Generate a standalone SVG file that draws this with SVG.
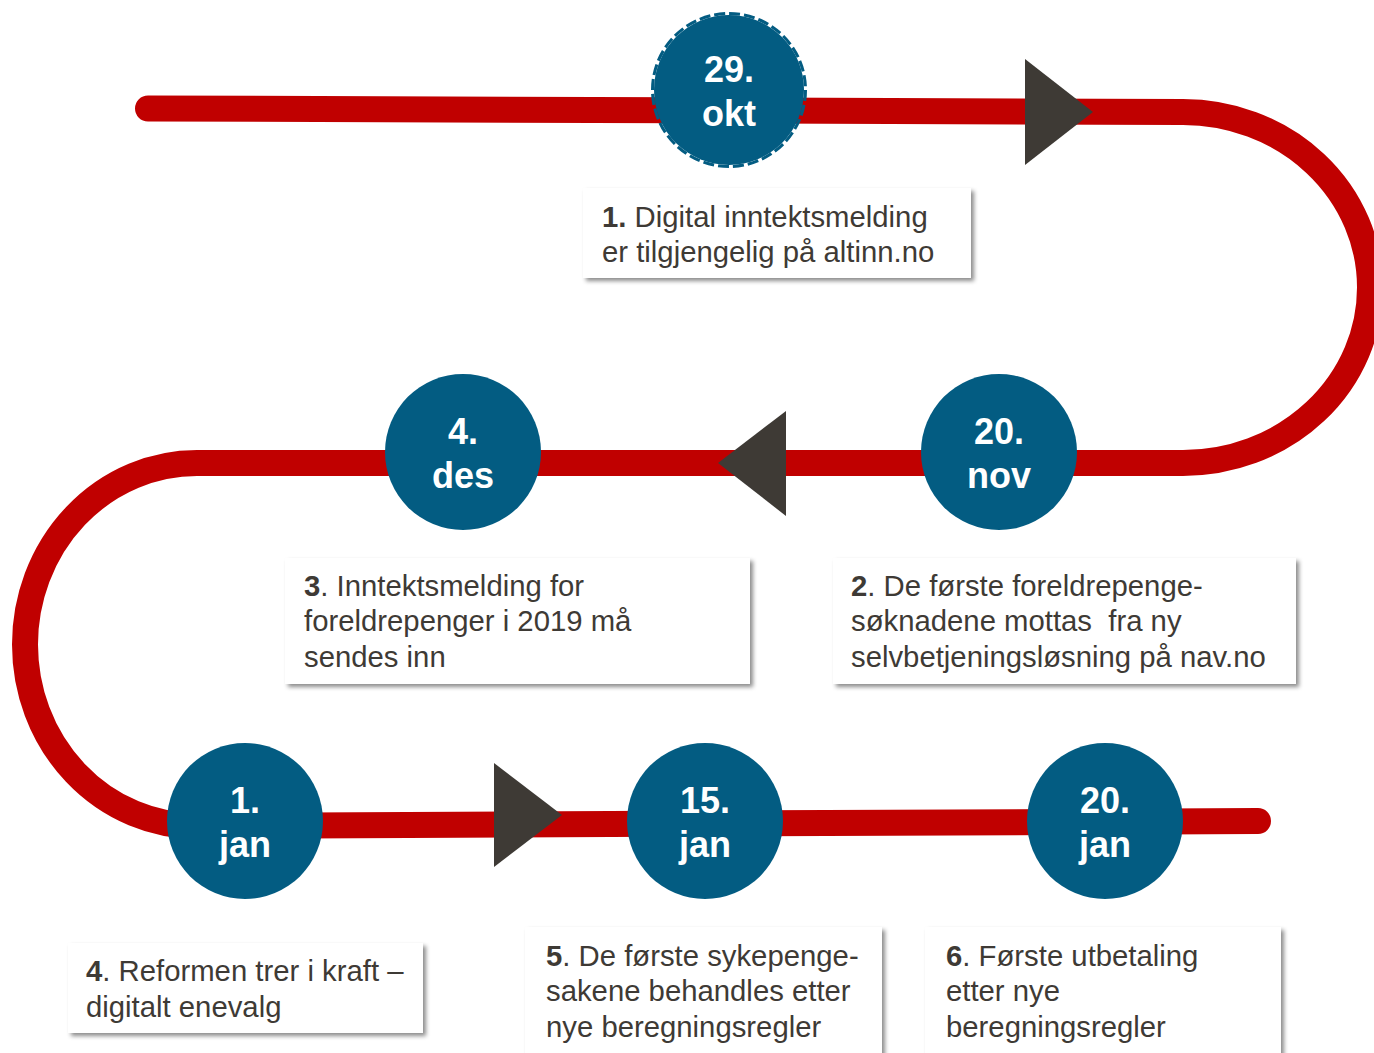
<svg xmlns="http://www.w3.org/2000/svg" width="1374" height="1053" viewBox="0 0 1374 1053">
<defs>
<style>
.road{fill:none;stroke:#c00000;stroke-width:26;stroke-linecap:round;stroke-linejoin:round}
.arrow{fill:#3e3a35}
.node{fill:#035c82}
.nt{font-family:"Liberation Sans",Arial,sans-serif;font-weight:bold;font-size:36px;fill:#ffffff;text-anchor:middle}
.box{fill:#ffffff;filter:url(#sh)}
.bt{font-family:"Liberation Sans",Arial,sans-serif;font-size:29.3px;fill:#3e3a35}
.b{font-weight:bold}
</style>
<filter id="sh" x="-5%" y="-10%" width="115%" height="130%">
<feDropShadow dx="3" dy="3" stdDeviation="2" flood-color="#000000" flood-opacity="0.45"/>
</filter>
</defs>
<g id="connectors">
<path class="road" d="M148,108.5 L1183,112 A187,175.5 0 0 1 1183,463 L197,463 A172,181.5 0 0 0 197,826 L1258,821"/>
<polygon class="arrow" points="1025,59 1025,165 1093,112"/>
<polygon class="arrow" points="786,411 786,516 718,463"/>
<polygon class="arrow" points="494,763 494,867 562,815"/>
</g>
<g id="node-29okt">
<circle class="node" cx="729" cy="90" r="75"/>
<circle cx="729" cy="90" r="76.5" fill="none" stroke="#035c82" stroke-width="3" stroke-dasharray="11 4"/>
<text class="nt" x="729" y="82">29.</text>
<text class="nt" x="729" y="126">okt</text>
</g>
<g id="node-20nov">
<circle class="node" cx="999" cy="452" r="78"/>
<text class="nt" x="999" y="444">20.</text>
<text class="nt" x="999" y="488">nov</text>
</g>
<g id="node-4des">
<circle class="node" cx="463" cy="452" r="78"/>
<text class="nt" x="463" y="444">4.</text>
<text class="nt" x="463" y="488">des</text>
</g>
<g id="node-1jan">
<circle class="node" cx="245" cy="821" r="78"/>
<text class="nt" x="245" y="813">1.</text>
<text class="nt" x="245" y="857">jan</text>
</g>
<g id="node-15jan">
<circle class="node" cx="705" cy="821" r="78"/>
<text class="nt" x="705" y="813">15.</text>
<text class="nt" x="705" y="857">jan</text>
</g>
<g id="node-20jan">
<circle class="node" cx="1105" cy="821" r="78"/>
<text class="nt" x="1105" y="813">20.</text>
<text class="nt" x="1105" y="857">jan</text>
</g>
<g id="box1">
<rect class="box" x="583" y="188" width="388" height="90"/>
<text class="bt" x="602" y="227"><tspan class="b">1.</tspan> Digital inntektsmelding</text>
<text class="bt" x="602" y="262">er tilgjengelig på altinn.no</text>
</g>
<g id="box2">
<rect class="box" x="833" y="558" width="463" height="126"/>
<text class="bt" x="851" y="596"><tspan class="b">2</tspan>. De første foreldrepenge-</text>
<text class="bt" x="851" y="631" xml:space="preserve">søknadene mottas  fra ny</text>
<text class="bt" x="851" y="667">selvbetjeningsløsning på nav.no</text>
</g>
<g id="box3">
<rect class="box" x="285" y="558" width="465" height="126"/>
<text class="bt" x="304" y="596"><tspan class="b">3</tspan>. Inntektsmelding for</text>
<text class="bt" x="304" y="631">foreldrepenger i 2019 må</text>
<text class="bt" x="304" y="667">sendes inn</text>
</g>
<g id="box4">
<rect class="box" x="68" y="943" width="355" height="90"/>
<text class="bt" x="86" y="981"><tspan class="b">4</tspan>. Reformen trer i kraft –</text>
<text class="bt" x="86" y="1017">digitalt enevalg</text>
</g>
<g id="box5">
<rect class="box" x="525" y="927" width="357" height="140"/>
<text class="bt" x="546" y="966"><tspan class="b">5</tspan>. De første sykepenge-</text>
<text class="bt" x="546" y="1001">sakene behandles etter</text>
<text class="bt" x="546" y="1037">nye beregningsregler</text>
</g>
<g id="box6">
<rect class="box" x="925" y="927" width="356" height="140"/>
<text class="bt" x="946" y="966"><tspan class="b">6</tspan>. Første utbetaling</text>
<text class="bt" x="946" y="1001">etter nye</text>
<text class="bt" x="946" y="1037">beregningsregler</text>
</g>
</svg>
